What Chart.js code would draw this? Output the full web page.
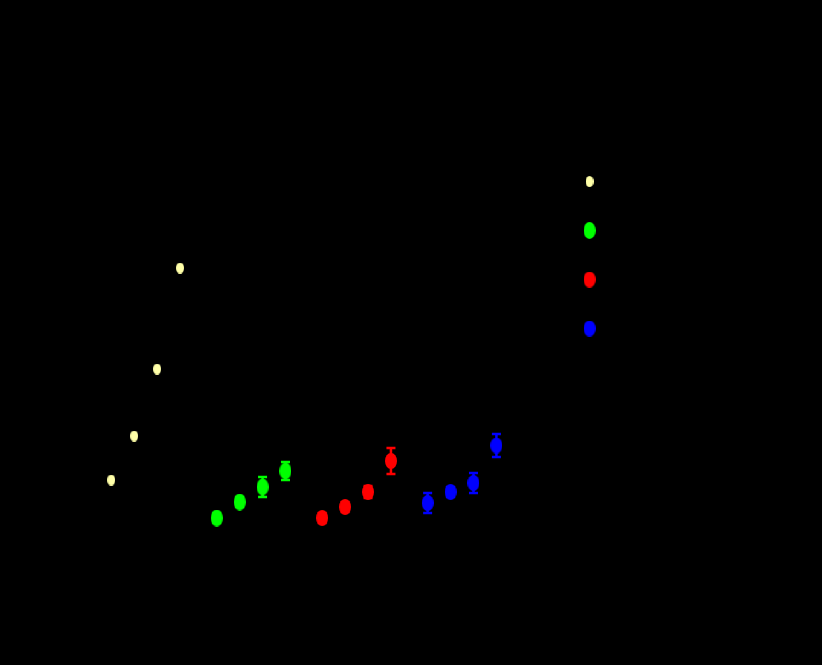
<!DOCTYPE html>
<html>
<head>
<meta charset="utf-8">
<script src="https://cdn.jsdelivr.net/npm/chart.js@4.4.1/dist/chart.umd.min.js"></script>
<style>
  html, body { margin: 0; padding: 0; background: #000; }
  #wrap { width: 822px; height: 665px; position: relative; }
</style>
</head>
<body>
<div id="wrap"><canvas id="chart"></canvas></div>
<script>
(function () {
  'use strict';

  // series (x in steps, y in plot units)
  const SERIES_NAMES = ['Set A', 'Set B', 'Set C', 'Set D'];

  const xA = [0, 1, 2, 3];
  const yA = [12.0, 16.4, 23.1, 33.2];
  const errA = [0, 0, 0, 0];

  const xB = [4.6, 5.6, 6.6, 7.6];
  const yB = [8.2, 9.8, 11.3, 12.9];
  const errB = [0.5, 0.5, 1.0, 0.9];

  const xC = [9.2, 10.2, 11.2, 12.2];
  const yC = [8.2, 9.3, 10.8, 13.9];
  const errC = [0.5, 0.5, 0.6, 1.3];

  const xD = [13.8, 14.8, 15.8, 16.8];
  const yD = [9.7, 10.8, 11.7, 15.45];
  const errD = [1.0, 0.5, 1.0, 1.15];

  const COLORS = ['#ffffa8', '#00ff00', '#ff0000', '#0000ff'];
  const MARKER_SIZES = [[8, 11], [12, 17], [12, 16], [12, 16]];

  function ellipseMarker(color, w, h) {
    const c = document.createElement('canvas');
    c.width = w;
    c.height = h;
    const g = c.getContext('2d');
    g.fillStyle = color;
    g.beginPath();
    g.ellipse(w / 2, h / 2, w / 2, h / 2, 0, 0, Math.PI * 2);
    g.fill();
    return c;
  }

  function toPoints(xs, ys) {
    return xs.map((x, i) => ({ x: x, y: ys[i] }));
  }

  const seriesData = [[xA, yA, errA], [xB, yB, errB], [xC, yC, errC], [xD, yD, errD]];

  const datasets = seriesData.map((s, i) => ({
    label: SERIES_NAMES[i],
    data: toPoints(s[0], s[1]),
    errors: s[2],
    pointStyle: ellipseMarker(COLORS[i], MARKER_SIZES[i][0], MARKER_SIZES[i][1]),
    backgroundColor: COLORS[i],
    borderColor: COLORS[i],
    showLine: false
  }));

  // vertical error bars with caps, drawn under the markers
  const errorBars = {
    id: 'errorBars',
    beforeDatasetsDraw(chart) {
      const ctx = chart.ctx;
      const xs = chart.scales.x;
      const ys = chart.scales.y;
      ctx.save();
      chart.data.datasets.forEach(ds => {
        ctx.strokeStyle = ds.borderColor;
        ctx.lineWidth = 2.5;
        ds.data.forEach((p, j) => {
          const e = ds.errors[j];
          if (!e) return;
          const px = xs.getPixelForValue(p.x);
          const top = ys.getPixelForValue(p.y + e);
          const bot = ys.getPixelForValue(p.y - e);
          ctx.beginPath();
          ctx.moveTo(px, top);
          ctx.lineTo(px, bot);
          ctx.moveTo(px - 4.5, top);
          ctx.lineTo(px + 4.5, top);
          ctx.moveTo(px - 4.5, bot);
          ctx.lineTo(px + 4.5, bot);
          ctx.stroke();
        });
      });
      ctx.restore();
    }
  };

  new Chart(document.getElementById('chart'), {
    type: 'scatter',
    data: { datasets: datasets },
    plugins: [errorBars],
    options: {
      responsive: true,
      maintainAspectRatio: false,
      animation: false,
      layout: { padding: { top: 140, right: 174, bottom: 0, left: 0 } },
      scales: {
        x: {
          type: 'linear',
          min: -1.45,
          max: 19.05,
          afterFit: scale => { scale.height = 65; },
          grid: { display: false },
          border: { color: '#000' },
          ticks: { color: '#000' }
        },
        y: {
          type: 'linear',
          min: 0,
          max: 46,
          afterFit: scale => { scale.width = 78; },
          grid: { display: false },
          border: { color: '#000' },
          ticks: { color: '#000' }
        }
      },
      plugins: {
        tooltip: { enabled: false },
        legend: {
          position: 'right',
          align: 'start',
          maxWidth: 100,
          labels: {
            usePointStyle: true,
            color: '#000',
            font: { size: 15 },
            padding: 34
          }
        }
      }
    }
  });
})();
</script>
</body>
</html>
